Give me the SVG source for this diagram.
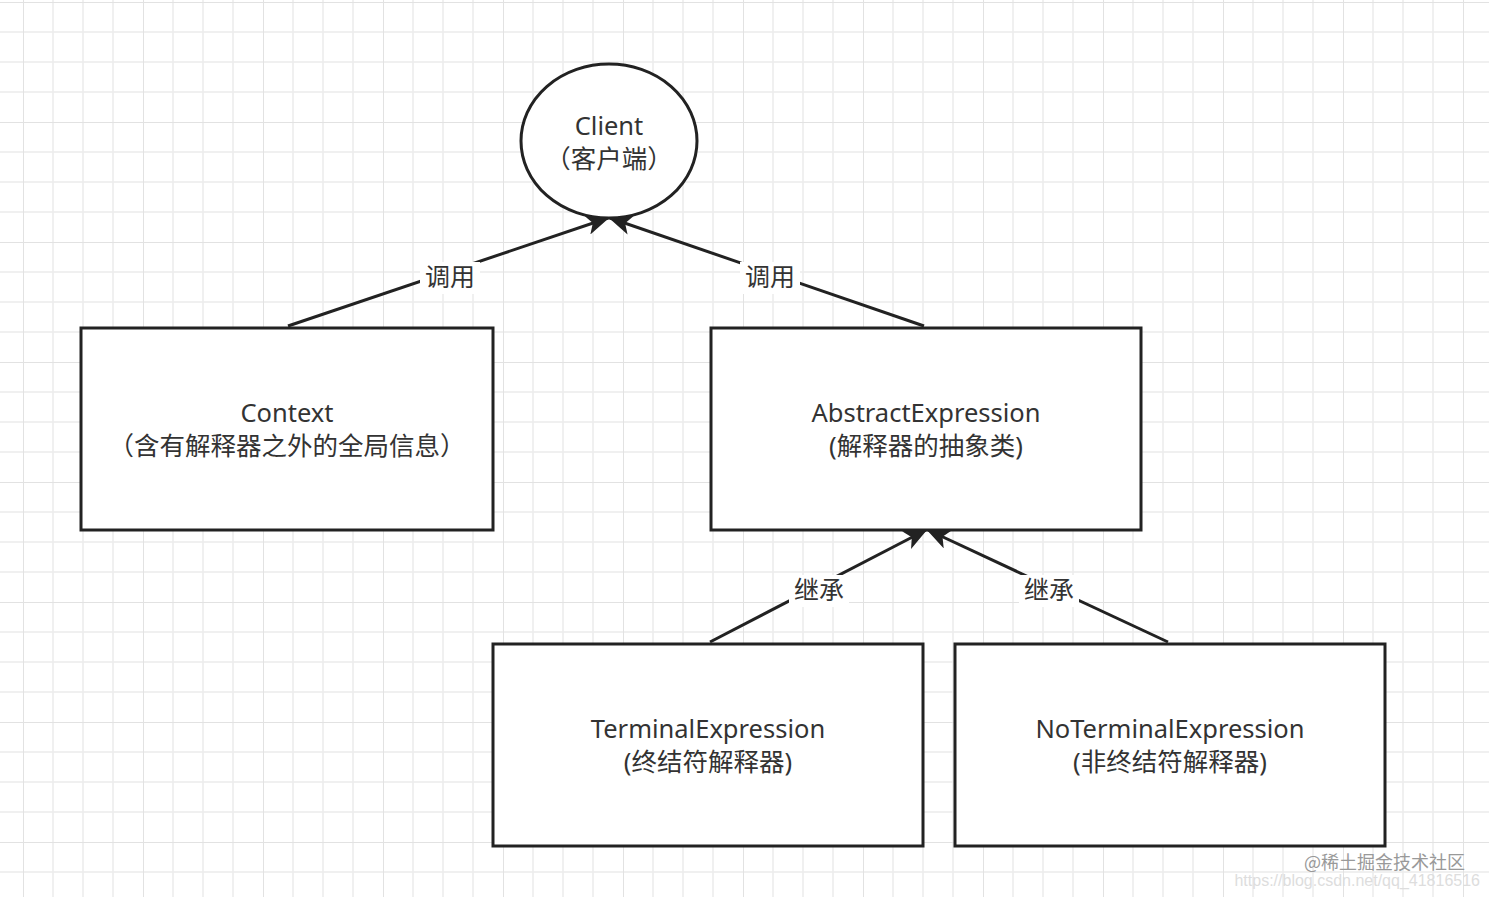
<svg xmlns="http://www.w3.org/2000/svg" width="1489" height="897" viewBox="0 0 1489 897">
<defs>
<pattern id="g" x="23" y="2" width="120" height="120" patternUnits="userSpaceOnUse">
<path d="M30 0V120M60 0V120M90 0V120M0 30H120M0 60H120M0 90H120" stroke="#ececec" stroke-width="1.5" fill="none"/>
<path d="M0 0V120M0 0H120" stroke="#e2e2e2" stroke-width="2" fill="none"/>
</pattern>
<marker id="b" viewBox="0 0 12 10" refX="11" refY="5" markerWidth="24" markerHeight="20" markerUnits="userSpaceOnUse" orient="auto"><path d="M0 0L12 5L0 10L3 5Z" fill="#222"/></marker>
</defs>
<style>
.n{fill:#fff;stroke:#222;stroke-width:3}
.t{font-family:"Noto Sans","Noto Sans CJK SC",sans-serif;font-size:25.5px;fill:#333;text-anchor:middle}
.c{stroke:#222;stroke-width:3;fill:none;marker-end:url(#b)}
.l{font-family:"Noto Sans CJK SC",sans-serif;font-size:25px;fill:#333;text-anchor:middle}
</style>
<rect width="1489" height="897" fill="#fff"/>
<rect width="1489" height="897" fill="url(#g)"/>
<g id="connectors">
<line class="c" x1="288" y1="326" x2="608" y2="218"/>
<line class="c" x1="924" y1="326" x2="610" y2="218"/>
<line class="c" x1="710" y1="642" x2="926" y2="530"/>
<line class="c" x1="1168" y1="642" x2="928" y2="530"/>
<rect x="420" y="262" width="60" height="32" fill="#fff"/>
<text class="l" x="450" y="286">调用</text>
<rect x="740" y="262" width="60" height="32" fill="#fff"/>
<text class="l" x="770" y="286">调用</text>
<rect x="789" y="575" width="60" height="32" fill="#fff"/>
<text class="l" x="819" y="599">继承</text>
<rect x="1019" y="575" width="60" height="32" fill="#fff"/>
<text class="l" x="1049" y="599">继承</text>
</g>
<g id="client"><ellipse class="n" cx="609" cy="141" rx="88" ry="77"/><text class="t" x="609" y="135">Client</text><text class="t" x="609" y="168">（客户端）</text></g>
<g id="context"><rect class="n" x="81" y="328" width="412" height="202"/><text class="t" x="287" y="422">Context</text><text class="t" x="287" y="455">（含有解释器之外的全局信息）</text></g>
<g id="abstract"><rect class="n" x="711" y="328" width="430" height="202"/><text class="t" x="926" y="422">AbstractExpression</text><text class="t" x="926" y="455">(解释器的抽象类)</text></g>
<g id="terminal"><rect class="n" x="493" y="644" width="430" height="202"/><text class="t" x="708" y="738">TerminalExpression</text><text class="t" x="708" y="771">(终结符解释器)</text></g>
<g id="noterminal"><rect class="n" x="955" y="644" width="430" height="202"/><text class="t" x="1170" y="738">NoTerminalExpression</text><text class="t" x="1170" y="771">(非终结符解释器)</text></g>
<text x="1465" y="869" font-family="Noto Sans CJK SC,sans-serif" font-size="18" fill="#999" text-anchor="end">@稀土掘金技术社区</text>
<text x="1480" y="886" font-family="Liberation Sans,sans-serif" font-size="16" fill="#ddd" text-anchor="end">https://blog.csdn.net/qq_41816516</text>
</svg>
